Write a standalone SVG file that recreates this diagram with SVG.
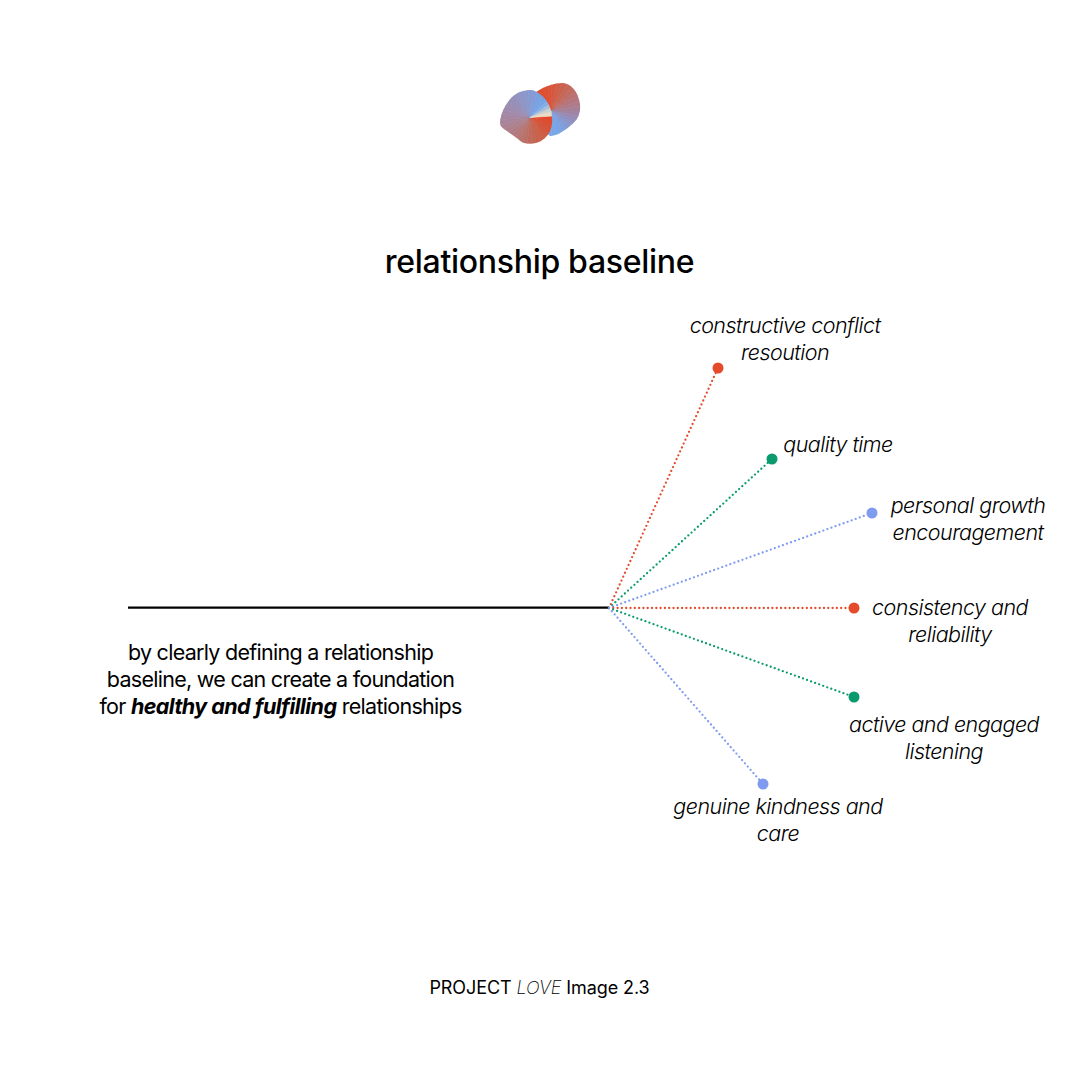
<svg xmlns="http://www.w3.org/2000/svg" width="1080" height="1080" viewBox="0 0 1080 1080">
<style>
text{font-family:"Inter","Liberation Sans",sans-serif;fill:#000;text-anchor:middle}
.title{font-size:32px;font-weight:500;letter-spacing:-0.3px}
.lab{font-size:21.5px;font-style:italic;font-weight:300;letter-spacing:-0.54px}
.body{font-size:21.5px;font-weight:400;letter-spacing:-0.72px}
.foot{font-size:18px;font-weight:400;letter-spacing:-0.08px}
.con{fill:none;stroke-width:2.3;stroke-linecap:round;stroke-dasharray:0 4.3}
.r{stroke:#e34b2b}.g{stroke:#0a9a6e}.b{stroke:#7f9bf0}
.dr{fill:#e34b2b}.dg{fill:#0a9a6e}.db{fill:#7f9bf0}
</style>
<defs>
<filter id="soft" x="-10%" y="-10%" width="120%" height="120%"><feGaussianBlur stdDeviation="0.45"/></filter>
<path id="w" d="M0 0L60 0L59.1 10.4Z" stroke-width="0.6"/>
<clipPath id="backClip"><path d="M536 92C545 86 555 83 563 83C572 84 578 92 580 104C581 114 577 121 570 126C563 132 556 136 550 136L530 120Z"/></clipPath>
<clipPath id="frontClip"><path d="M500 122C501 113 505 105 511 98C517 92 524 90 531 90C538 91 545 97 549 105C552 111 552.5 118 552 124C551 131 547 138 540 141.5C533 144.5 526 144.5 521 141.5C515 136 509 133 504 129C501 127 500 125 500 122Z"/></clipPath>
</defs>
<g id="logo" filter="url(#soft)">
<g clip-path="url(#backClip)"><g transform="translate(551.5 111)">
<use href="#w" transform="rotate(230)" fill="#e14a2a" stroke="#e14a2a"/><use href="#w" transform="rotate(240)" fill="#df4d2d" stroke="#df4d2d"/><use href="#w" transform="rotate(250)" fill="#dc5032" stroke="#dc5032"/><use href="#w" transform="rotate(260)" fill="#d95438" stroke="#d95438"/><use href="#w" transform="rotate(270)" fill="#d5583e" stroke="#d5583e"/><use href="#w" transform="rotate(280)" fill="#d05d46" stroke="#d05d46"/><use href="#w" transform="rotate(290)" fill="#cb624f" stroke="#cb624f"/><use href="#w" transform="rotate(300)" fill="#c66759" stroke="#c66759"/><use href="#w" transform="rotate(310)" fill="#c06c64" stroke="#c06c64"/><use href="#w" transform="rotate(320)" fill="#ba7170" stroke="#ba7170"/><use href="#w" transform="rotate(330)" fill="#b4767c" stroke="#b4767c"/><use href="#w" transform="rotate(340)" fill="#ae7b89" stroke="#ae7b89"/><use href="#w" transform="rotate(350)" fill="#a88096" stroke="#a88096"/><use href="#w" transform="rotate(0)" fill="#a184a3" stroke="#a184a3"/><use href="#w" transform="rotate(10)" fill="#9a89b0" stroke="#9a89b0"/><use href="#w" transform="rotate(20)" fill="#938fbc" stroke="#938fbc"/><use href="#w" transform="rotate(30)" fill="#8c95c8" stroke="#8c95c8"/><use href="#w" transform="rotate(40)" fill="#859ad2" stroke="#859ad2"/><use href="#w" transform="rotate(50)" fill="#7f9fdc" stroke="#7f9fdc"/><use href="#w" transform="rotate(60)" fill="#7aa3e3" stroke="#7aa3e3"/><use href="#w" transform="rotate(70)" fill="#78a5e7" stroke="#78a5e7"/><use href="#w" transform="rotate(80)" fill="#78a6e8" stroke="#78a6e8"/><use href="#w" transform="rotate(90)" fill="#7ca8e6" stroke="#7ca8e6"/><use href="#w" transform="rotate(100)" fill="#85ade4" stroke="#85ade4"/><use href="#w" transform="rotate(110)" fill="#90b3e0" stroke="#90b3e0"/><use href="#w" transform="rotate(120)" fill="#a0bcdc" stroke="#a0bcdc"/>
</g></g>
<g clip-path="url(#frontClip)"><g transform="translate(530 117.5)">
<use href="#w" transform="rotate(-4)" fill="#e2482a" stroke="#e2482a"/><use href="#w" transform="rotate(6)" fill="#df4b2e" stroke="#df4b2e"/><use href="#w" transform="rotate(16)" fill="#db4f33" stroke="#db4f33"/><use href="#w" transform="rotate(26)" fill="#d75338" stroke="#d75338"/><use href="#w" transform="rotate(36)" fill="#d3573d" stroke="#d3573d"/><use href="#w" transform="rotate(46)" fill="#cf5b42" stroke="#cf5b42"/><use href="#w" transform="rotate(56)" fill="#cb5f48" stroke="#cb5f48"/><use href="#w" transform="rotate(66)" fill="#c7634e" stroke="#c7634e"/><use href="#w" transform="rotate(76)" fill="#c36755" stroke="#c36755"/><use href="#w" transform="rotate(86)" fill="#bf6b5c" stroke="#bf6b5c"/><use href="#w" transform="rotate(96)" fill="#bc6f64" stroke="#bc6f64"/><use href="#w" transform="rotate(106)" fill="#b9736c" stroke="#b9736c"/><use href="#w" transform="rotate(116)" fill="#b67774" stroke="#b67774"/><use href="#w" transform="rotate(126)" fill="#b37a7c" stroke="#b37a7c"/><use href="#w" transform="rotate(136)" fill="#b07d84" stroke="#b07d84"/><use href="#w" transform="rotate(146)" fill="#ae808c" stroke="#ae808c"/><use href="#w" transform="rotate(156)" fill="#ab8393" stroke="#ab8393"/><use href="#w" transform="rotate(166)" fill="#a8859a" stroke="#a8859a"/><use href="#w" transform="rotate(176)" fill="#a587a1" stroke="#a587a1"/><use href="#w" transform="rotate(186)" fill="#a289a8" stroke="#a289a8"/><use href="#w" transform="rotate(196)" fill="#9f8bad" stroke="#9f8bad"/><use href="#w" transform="rotate(206)" fill="#9c8db2" stroke="#9c8db2"/><use href="#w" transform="rotate(216)" fill="#988fb7" stroke="#988fb7"/><use href="#w" transform="rotate(226)" fill="#9591bc" stroke="#9591bc"/><use href="#w" transform="rotate(236)" fill="#9294c1" stroke="#9294c1"/><use href="#w" transform="rotate(246)" fill="#8e96c7" stroke="#8e96c7"/><use href="#w" transform="rotate(256)" fill="#8b98cc" stroke="#8b98cc"/><use href="#w" transform="rotate(266)" fill="#879ad2" stroke="#879ad2"/><use href="#w" transform="rotate(276)" fill="#839cd7" stroke="#839cd7"/><use href="#w" transform="rotate(286)" fill="#7e9fdd" stroke="#7e9fdd"/><use href="#w" transform="rotate(296)" fill="#79a2e3" stroke="#79a2e3"/><use href="#w" transform="rotate(306)" fill="#76a5e8" stroke="#76a5e8"/><use href="#w" transform="rotate(316)" fill="#86aee4" stroke="#86aee4"/><use href="#w" transform="rotate(326)" fill="#a8c0da" stroke="#a8c0da"/><use href="#w" transform="rotate(336)" fill="#cdd2cc" stroke="#cdd2cc"/><use href="#w" transform="rotate(346)" fill="#ecdcc4" stroke="#ecdcc4"/>
</g></g>
</g>
<text class="title" x="539.5" y="273">relationship baseline</text>
<g id="connectors">
<line x1="128" y1="607.7" x2="609" y2="607.7" stroke="#000" stroke-width="2.2"/>
<line class="con r" x1="609" y1="608" x2="718" y2="368"/>
<line class="con g" x1="609" y1="608" x2="772" y2="459"/>
<line class="con b" x1="609" y1="608" x2="872" y2="513"/>
<line class="con r" x1="609" y1="608" x2="854" y2="608"/>
<line class="con g" x1="609" y1="608" x2="854" y2="697"/>
<line class="con b" x1="609" y1="608" x2="763" y2="784"/>
</g>
<g id="intro"><text class="body" x="280.5" y="660">by clearly defining a relationship</text><text class="body" x="280.5" y="687">baseline, we can create a foundation</text><text class="body" x="280.5" y="714">for <tspan font-weight="700" font-style="italic" letter-spacing="-0.55">healthy and fulfilling</tspan> relationships</text></g>
<g id="node-conflict"><circle class="dr" cx="718" cy="368" r="5.5"/><text class="lab" x="785" y="333">constructive conflict</text><text class="lab" x="785" y="360">resoution</text></g>
<g id="node-time"><circle class="dg" cx="772" cy="459" r="5.5"/><text class="lab" x="838" y="452">quality time</text></g>
<g id="node-growth"><circle class="db" cx="872" cy="513" r="5.5"/><text class="lab" x="968" y="513">personal growth</text><text class="lab" x="968" y="540">encouragement</text></g>
<g id="node-consistency"><circle class="dr" cx="854" cy="608" r="5.5"/><text class="lab" x="950" y="615">consistency and</text><text class="lab" x="950" y="642">reliability</text></g>
<g id="node-listening"><circle class="dg" cx="854" cy="697" r="5.5"/><text class="lab" x="944" y="732">active and engaged</text><text class="lab" x="944" y="759">listening</text></g>
<g id="node-kindness"><circle class="db" cx="763" cy="784" r="5.5"/><text class="lab" x="778" y="814">genuine kindness and</text><text class="lab" x="778" y="841">care</text></g>
<text class="foot" x="539.5" y="994">PROJECT <tspan font-style="italic" font-weight="200">LOVE</tspan> Image 2.3</text>
</svg>
